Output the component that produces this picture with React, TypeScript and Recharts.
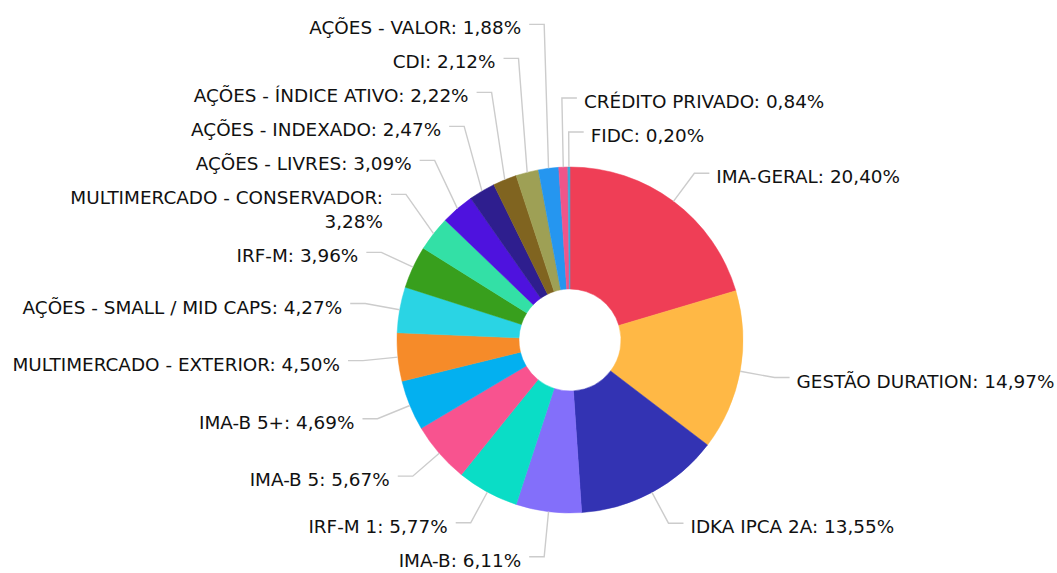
import React from 'react';
import { PieChart, Pie, Cell } from 'recharts';

const categories = [
  'IMA-GERAL',
  'GESTÃO DURATION',
  'IDKA IPCA 2A',
  'IMA-B',
  'IRF-M 1',
  'IMA-B 5',
  'IMA-B 5+',
  'MULTIMERCADO - EXTERIOR',
  'AÇÕES - SMALL / MID CAPS',
  'IRF-M',
  'MULTIMERCADO - CONSERVADOR',
  'AÇÕES - LIVRES',
  'AÇÕES - INDEXADO',
  'AÇÕES - ÍNDICE ATIVO',
  'CDI',
  'AÇÕES - VALOR',
  'CRÉDITO PRIVADO',
  'FIDC',
];

const values = [20.4, 14.97, 13.55, 6.11, 5.77, 5.67, 4.69, 4.5, 4.27, 3.96, 3.28, 3.09, 2.47, 2.22, 2.12, 1.88, 0.84, 0.2];

const colors = [
  '#EF3E56', '#FFB845', '#3333B3', '#836FFA', '#0ADDC6', '#F8538F', '#03B0F0', '#F68B29', '#2AD4E4',
  '#389F1D', '#33E0A6', '#4E12DE', '#2E1E8E', '#806420', '#9EA055', '#2596F0', '#EF5589', '#3DA9D9',
];

const data = categories.map((name, i) => ({ name, value: values[i] }));

const W = 1057;
const H = 573;
const CX = 570;
const CY = 340;
const R = 173;
const IR = 51;
const LEN = 35;
const LEN2 = 15;
const FONT_SIZE = 18.4;
const FONT = 'DejaVu Sans, Verdana, sans-serif';
const LINE_H = 24;
const HALF_BOX = 17;
const MAX_LABEL_W = 350;

const fmt = (v: number) => v.toFixed(2).replace('.', ',') + '%';

let ctx: CanvasRenderingContext2D | null = null;
function measure(text: string): number {
  if (!ctx && typeof document !== 'undefined') {
    ctx = document.createElement('canvas').getContext('2d');
  }
  if (ctx) {
    ctx.font = `${FONT_SIZE}px "DejaVu Sans"`;
    return ctx.measureText(text).width;
  }
  return text.length * FONT_SIZE * 0.6;
}

function wrap(text: string, avail: number): string[] {
  if (measure(text) <= avail) return [text];
  const words = text.split(' ');
  const lines: string[] = [];
  let cur = '';
  for (const w of words) {
    const t = cur ? cur + ' ' + w : w;
    if (cur && measure(t) > avail) {
      lines.push(cur);
      cur = w;
    } else cur = t;
  }
  if (cur) lines.push(cur);
  return lines;
}

type LabelLayout = {
  side: 1 | -1;
  theta: number;
  edge: [number, number];
  bendX: number;
  endX: number;
  textX: number;
  natY: number;
  y: number;
  lines: string[];
};

function computeLayout(): LabelLayout[] {
  const total = values.reduce((a, b) => a + b, 0);
  let cum = 0;
  const items: LabelLayout[] = values.map((v, i) => {
    const thetaDeg = ((cum + v / 2) / total) * 360;
    cum += v;
    const t = (thetaDeg * Math.PI) / 180;
    const s = Math.sin(t);
    const c = Math.cos(t);
    const bendX = CX + (R + LEN) * s;
    const side: 1 | -1 = bendX >= CX - 10 ? 1 : -1;
    const endX = bendX + side * LEN2;
    const textX = endX + side * (side === 1 ? 7 : 8);
    const avail = Math.min(MAX_LABEL_W, side === 1 ? W - textX : textX);
    const text = `${categories[i]}: ${fmt(v)}`;
    const natY = CY - (R + LEN) * c;
    return {
      side,
      theta: thetaDeg > 180 && side === 1 ? thetaDeg - 360 : thetaDeg,
      edge: [CX + R * s, CY - R * c],
      bendX,
      endX,
      textX,
      natY,
      y: natY,
      lines: wrap(text, avail),
    };
  });

  const extra = (it: LabelLayout) => (it.lines.length - 1) * LINE_H;

  for (const side of [1, -1] as const) {
    const sideItems = items.filter((it) => it.side === side);
    const top = sideItems.filter((it) => it.natY < CY);
    const bottom = sideItems.filter((it) => it.natY >= CY);
    // order from the horizontal outward
    if (side === 1) {
      top.sort((a, b) => b.theta - a.theta);
      bottom.sort((a, b) => a.theta - b.theta);
    } else {
      top.sort((a, b) => a.theta - b.theta);
      bottom.sort((a, b) => b.theta - a.theta);
    }
    let prevTop = Infinity;
    for (const it of top) {
      const maxY = prevTop - HALF_BOX - extra(it);
      it.y = Math.min(it.natY, maxY);
      prevTop = it.y - HALF_BOX;
    }
    let prevBottom = top.length ? top[0].y + HALF_BOX + extra(top[0]) : -Infinity;
    for (const it of bottom) {
      const minY = prevBottom + HALF_BOX;
      it.y = Math.max(it.natY, minY);
      prevBottom = it.y + HALF_BOX + extra(it);
    }
  }
  return items;
}

const layout = computeLayout();

const renderLabel = (props: any) => {
  const it = layout[props.index];
  if (!it) return null;
  const pts = `${it.edge[0]},${it.edge[1]} ${it.bendX},${it.y} ${it.endX},${it.y}`;
  return (
    <g key={`lbl-${props.index}`}>
      <polyline points={pts} fill="none" stroke="#cccccc" strokeWidth={1.4} />
      <text
        x={it.textX}
        y={it.y + 10}
        textAnchor={it.side === 1 ? 'start' : 'end'}
        fontFamily={FONT}
        fontSize={FONT_SIZE}
        fill="#111111"
      >
        {it.lines.map((ln, k) => (
          <tspan key={k} x={it.textX} dy={k === 0 ? 0 : LINE_H}>
            {ln}
          </tspan>
        ))}
      </text>
    </g>
  );
};

export default function App() {
  return (
    <div style={{ position: 'absolute', left: 0, top: 0, width: W, height: H, background: '#fff' }}>
      <PieChart width={W} height={H} margin={{ top: 0, right: 0, bottom: 0, left: 0 }}>
        <Pie
          data={data}
          dataKey="value"
          nameKey="name"
          cx={CX}
          cy={CY}
          outerRadius={R}
          innerRadius={IR}
          startAngle={90}
          endAngle={-270}
          isAnimationActive={false}
          label={renderLabel}
          labelLine={false}
        >
          {data.map((d, i) => (
            <Cell key={d.name} fill={colors[i]} stroke={colors[i]} strokeWidth={0.5} />
          ))}
        </Pie>
      </PieChart>
    </div>
  );
}
